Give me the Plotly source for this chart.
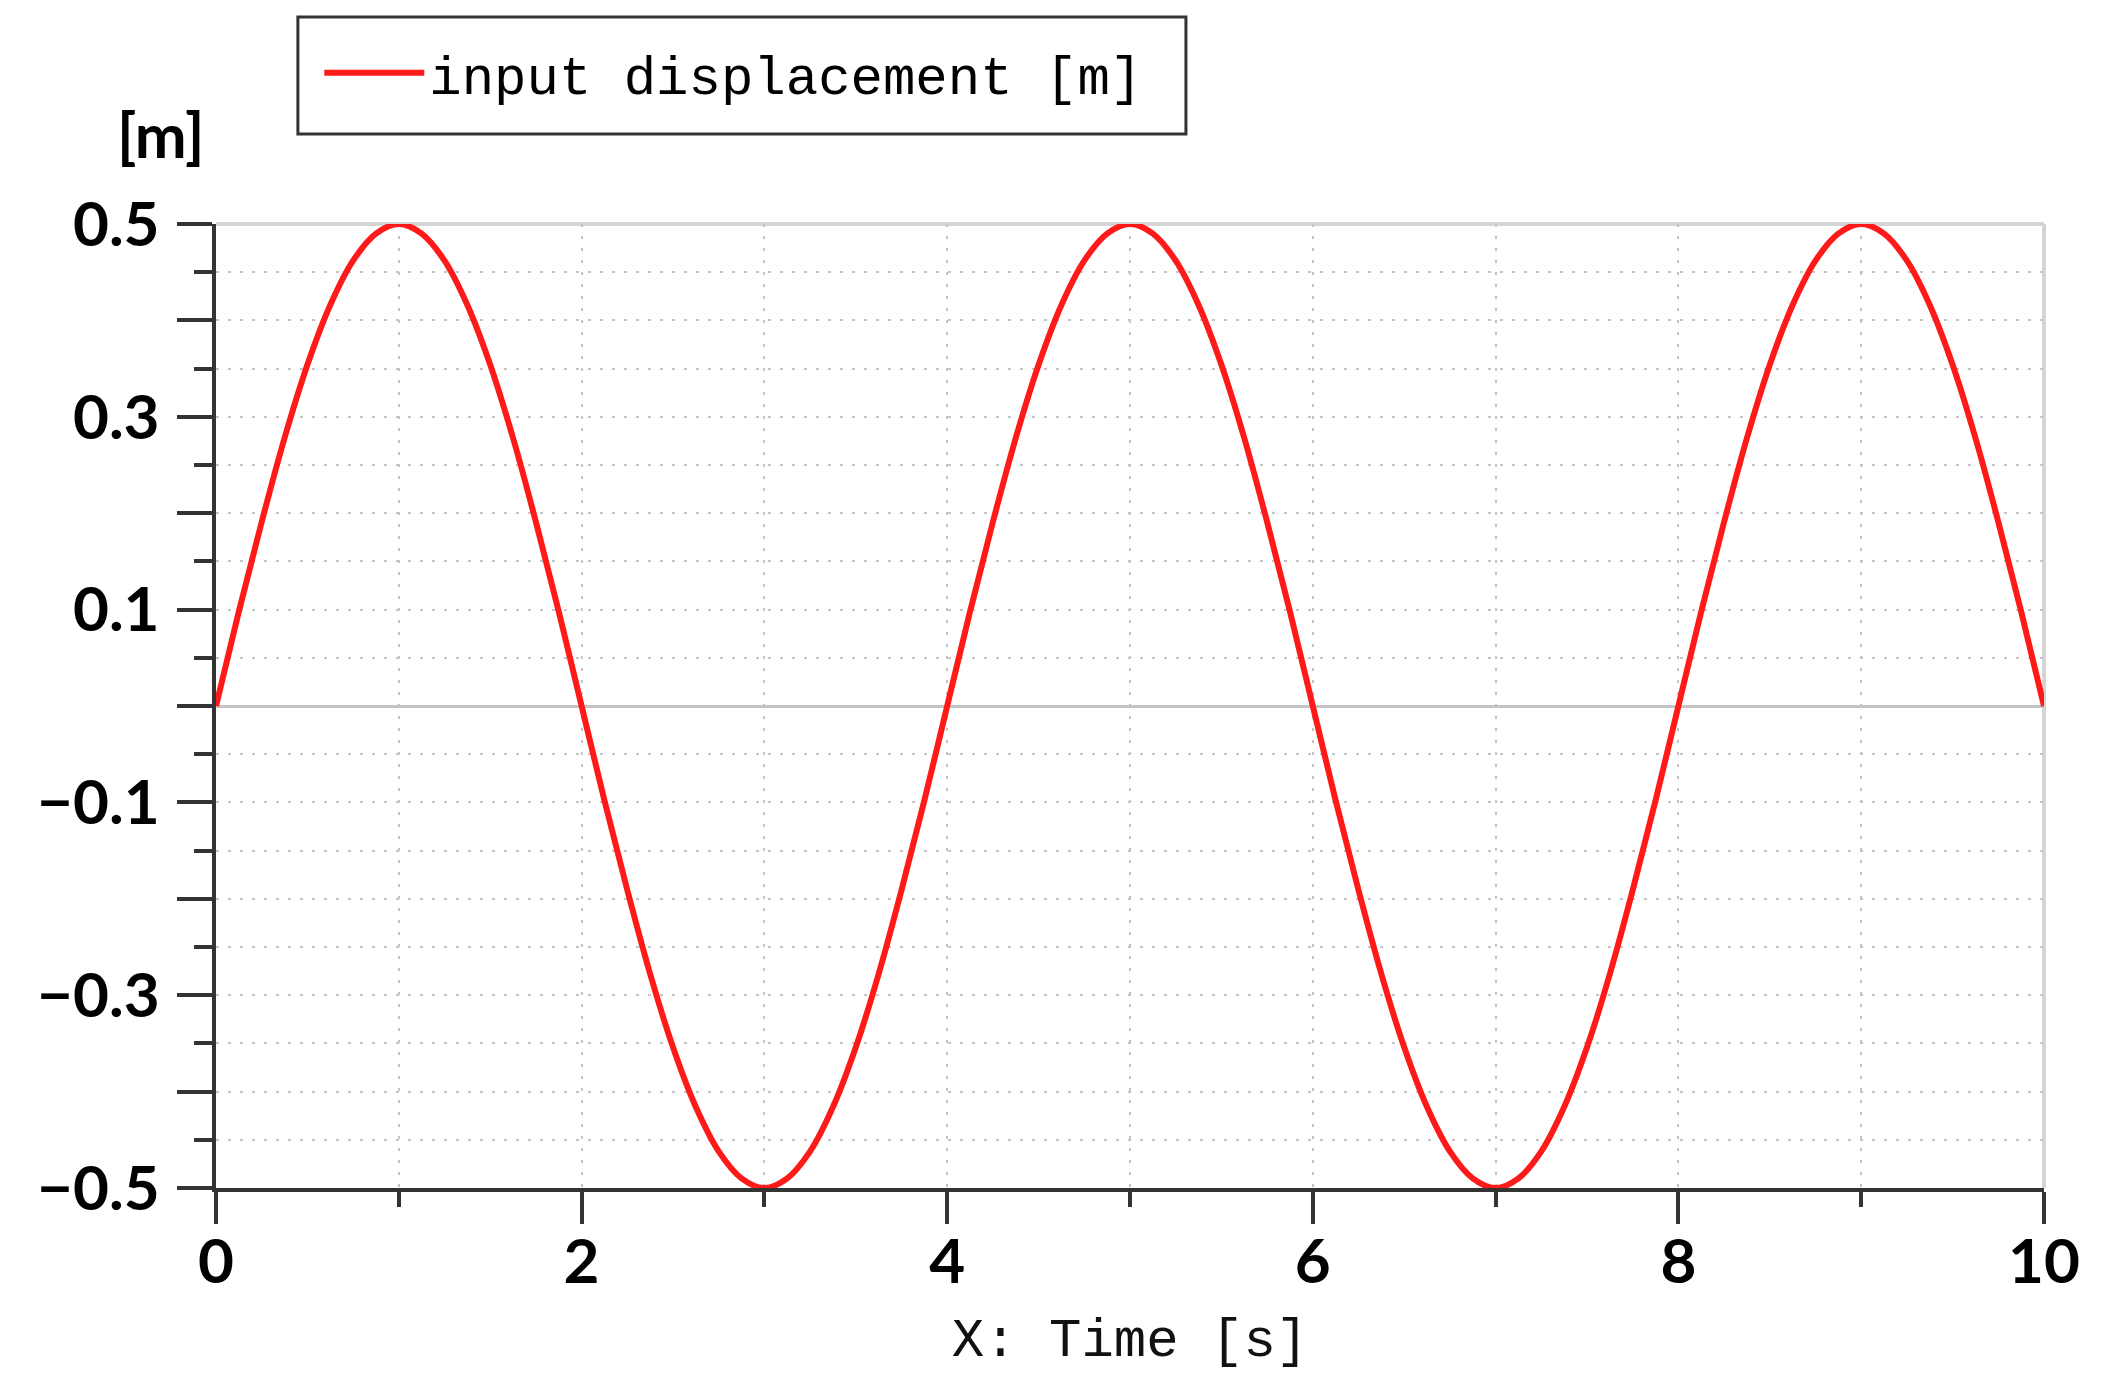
import plotly.graph_objects as go

# Data (time in s, displacement in m)
time_s = [0.0, 0.125, 0.25, 0.375, 0.5, 0.625, 0.75, 0.875,
          1.0, 1.125, 1.25, 1.375, 1.5, 1.625, 1.75, 1.875,
          2.0, 2.125, 2.25, 2.375, 2.5, 2.625, 2.75, 2.875,
          3.0, 3.125, 3.25, 3.375, 3.5, 3.625, 3.75, 3.875,
          4.0, 4.125, 4.25, 4.375, 4.5, 4.625, 4.75, 4.875,
          5.0, 5.125, 5.25, 5.375, 5.5, 5.625, 5.75, 5.875,
          6.0, 6.125, 6.25, 6.375, 6.5, 6.625, 6.75, 6.875,
          7.0, 7.125, 7.25, 7.375, 7.5, 7.625, 7.75, 7.875,
          8.0, 8.125, 8.25, 8.375, 8.5, 8.625, 8.75, 8.875,
          9.0, 9.125, 9.25, 9.375, 9.5, 9.625, 9.75, 9.875, 10.0]
displacement_m = [0.0, 0.098, 0.191, 0.278, 0.354, 0.416, 0.462, 0.490,
                  0.5, 0.490, 0.462, 0.416, 0.354, 0.278, 0.191, 0.098,
                  0.0, -0.098, -0.191, -0.278, -0.354, -0.416, -0.462, -0.490,
                  -0.5, -0.490, -0.462, -0.416, -0.354, -0.278, -0.191, -0.098,
                  0.0, 0.098, 0.191, 0.278, 0.354, 0.416, 0.462, 0.490,
                  0.5, 0.490, 0.462, 0.416, 0.354, 0.278, 0.191, 0.098,
                  0.0, -0.098, -0.191, -0.278, -0.354, -0.416, -0.462, -0.490,
                  -0.5, -0.490, -0.462, -0.416, -0.354, -0.278, -0.191, -0.098,
                  0.0, 0.098, 0.191, 0.278, 0.354, 0.416, 0.462, 0.490,
                  0.5, 0.490, 0.462, 0.416, 0.354, 0.278, 0.191, 0.098, 0.0]

series_name = "input displacement [m]"
x_title = "X: Time [s]"
y_unit = "[m]"

x_tickvals = [0, 2, 4, 6, 8, 10]
x_ticktext = ["0", "2", "4", "6", "8", "10"]
y_tickvals = [-0.5, -0.4, -0.3, -0.2, -0.1, 0.0, 0.1, 0.2, 0.3, 0.4, 0.5]
y_ticktext = ["\u22120.5", "", "\u22120.3", "", "\u22120.1", "",
              "0.1", "", "0.3", "", "0.5"]

AXIS = "#333333"
GRID = "#c4c4c4"
TICKFONT = dict(family="Lato", size=62, color="black", weight="bold")
MONO = "Liberation Mono"
GRIDDASH = "3px,9px"

fig = go.Figure()
fig.add_trace(go.Scatter(
    x=time_s, y=displacement_m, mode="lines", name=series_name,
    line=dict(color="#ff1a1a", width=6, shape="spline", smoothing=1.0),
    showlegend=True,
))

fig.update_layout(
    width=2098, height=1383,
    margin=dict(l=208, r=62, t=216, b=203),
    paper_bgcolor="white", plot_bgcolor="white",
    showlegend=True,
    legend=dict(
        x=0.0565, y=1.2, xanchor="left", yanchor="top",
        borderwidth=0, bgcolor="rgba(0,0,0,0)",
        font=dict(family=MONO, size=54, color="black"),
        itemwidth=100,
    ),
    xaxis=dict(
        range=[0, 10], tickvals=x_tickvals, ticktext=x_ticktext,
        ticks="outside", ticklen=32, tickwidth=4, tickcolor=AXIS,
        showline=True, linecolor=AXIS, linewidth=4,
        showgrid=True, gridcolor=GRID, gridwidth=2, griddash=GRIDDASH,
        zeroline=False, tickfont=TICKFONT, ticklabelstandoff=-15,
        minor=dict(dtick=1, tick0=0, ticks="outside", ticklen=15, tickwidth=4,
                   tickcolor=AXIS, showgrid=True, gridcolor=GRID, gridwidth=2,
                   griddash=GRIDDASH),
        title=dict(text=x_title, font=dict(family=MONO, size=54, color="#111111"),
                   standoff=24),
    ),
    yaxis=dict(
        range=[-0.5, 0.5], tickvals=y_tickvals, ticktext=y_ticktext,
        ticks="outside", ticklen=35, tickwidth=4, tickcolor=AXIS,
        showline=True, linecolor=AXIS, linewidth=4,
        showgrid=True, gridcolor=GRID, gridwidth=2, griddash=GRIDDASH,
        zeroline=True, zerolinecolor=GRID, zerolinewidth=3,
        tickfont=TICKFONT, ticklabelstandoff=5,
        minor=dict(dtick=0.05, tick0=0, ticks="outside", ticklen=18, tickwidth=4,
                   tickcolor=AXIS, showgrid=True, gridcolor=GRID, gridwidth=2,
                   griddash=GRIDDASH),
    ),
    annotations=[dict(
        text="<b>" + y_unit + "</b>", xref="paper", yref="paper",
        x=-0.0301, y=1.093, xanchor="center", yanchor="middle",
        showarrow=False, font=dict(family="Lato", size=62, color="black"),
    )],
    shapes=[
        # legend frame
        dict(type="rect", xref="paper", yref="paper",
             x0=0.0448, x1=0.5306, y0=1.0934, y1=1.2147,
             line=dict(color=AXIS, width=3), fillcolor="rgba(0,0,0,0)",
             layer="above"),
        # light plot-frame on top and right
        dict(type="line", xref="paper", yref="paper", x0=0, x1=1, y0=1, y1=1,
             line=dict(color="#d4d4d4", width=4), layer="below"),
        dict(type="line", xref="paper", yref="paper", x0=1, x1=1, y0=0, y1=1,
             line=dict(color="#d4d4d4", width=4), layer="below"),
    ],
)

fig.write_html("out.html")
